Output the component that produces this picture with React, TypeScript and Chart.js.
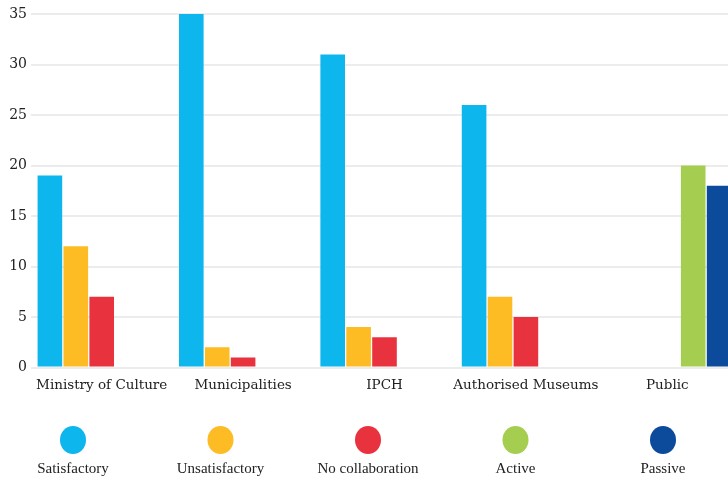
import React, { useEffect, useRef } from "react";
import { Chart, registerables } from "chart.js";

Chart.register(...registerables);

// Stakeholder groups along the x axis
const categories = [
  "Ministry of Culture",
  "Municipalities",
  "IPCH",
  "Authorised Museums",
  "Public",
];

// Number of responses per rating, one value per stakeholder group
const satisfactory = [19, 35, 31, 26, null];
const unsatisfactory = [12, 2, 4, 7, null];
const noCollaboration = [7, 1, 3, 5, null];
const active = [null, null, null, null, 20];
const passive = [null, null, null, null, 18];

const seriesNames = ["Satisfactory", "Unsatisfactory", "No collaboration", "Active", "Passive"];
const seriesColors = ["#0DB6EC", "#FDBC24", "#E8333F", "#A5CD50", "#0C4B9C"];
const seriesValues = [satisfactory, unsatisfactory, noCollaboration, active, passive];

const yTicks = [0, 5, 10, 15, 20, 25, 30, 35];

const AXIS_FONT = "'DejaVu Serif', serif";
const LEGEND_FONT = "'Liberation Serif', 'Times New Roman', serif";

// Legend drawn under the plot: a dot above each series name
const dotLegend = {
  id: "dotLegend",
  afterDraw(chart: Chart) {
    const ctx = chart.ctx;
    ctx.save();
    seriesNames.forEach((name, i) => {
      const cx = 73 + i * 147.5;
      ctx.fillStyle = seriesColors[i];
      ctx.beginPath();
      ctx.ellipse(cx, 440, 13, 14, 0, 0, Math.PI * 2);
      ctx.fill();
      ctx.fillStyle = "#222222";
      ctx.font = `15px ${LEGEND_FONT}`;
      ctx.textAlign = "center";
      ctx.textBaseline = "middle";
      ctx.fillText(name, cx, 469);
    });
    ctx.restore();
  },
};

export default function App() {
  const canvasRef = useRef<HTMLCanvasElement | null>(null);

  useEffect(() => {
    document.body.style.margin = "0";
    const canvas = canvasRef.current;
    if (!canvas) return;
    const chart = new Chart(canvas, {
      type: "bar",
      data: {
        labels: categories,
        datasets: seriesNames.map((name, i) => ({
          label: name,
          data: seriesValues[i],
          backgroundColor: seriesColors[i],
          borderWidth: 0,
          barPercentage: 0.95,
          categoryPercentage: 0.916,
        })),
      },
      options: {
        responsive: false,
        animation: false,
        layout: { padding: { top: 14, left: 0, right: 0, bottom: 0 } },
        plugins: {
          legend: { display: false },
          tooltip: { enabled: false },
        },
        scales: {
          x: {
            grid: { display: false },
            border: { display: false },
            ticks: {
              autoSkip: false,
              maxRotation: 0,
              padding: 2,
              color: "#222222",
              font: { family: AXIS_FONT, size: 13.5 },
            },
            afterFit(scale: any) {
              scale.height = 112.5;
            },
          },
          y: {
            min: 0,
            max: 35,
            afterBuildTicks(scale: any) {
              scale.ticks = yTicks.map((v) => ({ value: v }));
            },
            grid: { color: "#ececec", lineWidth: 2, drawTicks: false },
            border: { display: false },
            ticks: {
              padding: 4,
              color: "#222222",
              font: { family: AXIS_FONT, size: 14 },
            },
            afterFit(scale: any) {
              scale.width = 31;
            },
          },
        },
      },
      plugins: [dotLegend],
    });
    return () => chart.destroy();
  }, []);

  return (
    <div style={{ width: 728, height: 480, overflow: "hidden", background: "#ffffff" }}>
      <canvas ref={canvasRef} width={738} height={480} style={{ display: "block" }} />
    </div>
  );
}
